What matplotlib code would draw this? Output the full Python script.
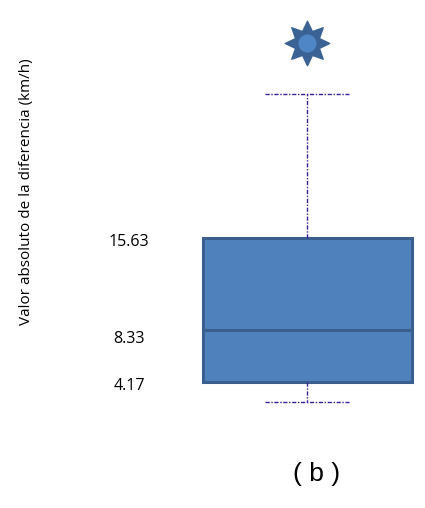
import numpy as np
import matplotlib.pyplot as plt
from matplotlib.path import Path

# box plot summary (km/h)
q1 = 4.17
median = 8.33
q3 = 15.63
whisker_low = 2.58
whisker_high = 27.08
outliers = [31.1]
value_labels = [15.63, 8.33, 4.17]

fig = plt.figure(figsize=(4.25, 5.08), dpi=100)
ax = fig.add_axes([0, 0, 1, 1])
ax.set_xlim(0, 425)
ax.set_ylim(-5.85, 34.56)
ax.axis("off")

dash = (0, (3, 1.2, 1, 1.2))
stats = [dict(med=median, q1=q1, q3=q3, whislo=whisker_low,
              whishi=whisker_high, fliers=[])]
ax.bxp(stats, positions=[307.5], widths=[209], patch_artist=True,
       capwidths=[84],
       boxprops=dict(facecolor="#4f81bd", edgecolor="#3a5f8e", linewidth=2.2),
       medianprops=dict(color="#3a5f8e", linewidth=2.2),
       whiskerprops=dict(color="#3b1f9e", linewidth=1.0, linestyle=dash),
       capprops=dict(color="#3b1f9e", linewidth=1.0, linestyle=dash),
       showfliers=False)

# eight-point star for the outlier
ang = np.arange(16) * np.pi / 8 + np.pi / 2
rad = np.where(np.arange(16) % 2 == 0, 1.0, 0.58)
verts = np.column_stack([rad * np.cos(ang), rad * np.sin(ang)])
verts = np.vstack([verts, verts[0]])
star = Path(verts, [Path.MOVETO] + [Path.LINETO] * 15 + [Path.CLOSEPOLY])
ax.plot([307.5] * len(outliers), outliers, linestyle="none", marker=star,
        markersize=32, markerfacecolor="#3a6294", markeredgecolor="#3a6294")
ax.plot([307.5] * len(outliers), outliers, linestyle="none", marker="o",
        markersize=13, markerfacecolor="#4f86c6", markeredgecolor="none")

offsets = [-3, -7, -3]
for v, off in zip(value_labels, offsets):
    ax.annotate(f"{v:.2f}", xy=(129, v), xytext=(0, off),
                textcoords="offset points", ha="center", va="center",
                fontsize=11.5, family="Open Sans", color="black")

fig.text(27 / 425, 1 - 192 / 508, "Valor absoluto de la diferencia (km/h)",
         rotation=90, ha="center", va="center", fontsize=11,
         family="Open Sans", color="black")
fig.text(317 / 425, 1 - 474 / 508, "( b )", ha="center", va="center",
         fontsize=19, family="Liberation Sans", color="black")

fig.savefig("out.png", dpi=100)
